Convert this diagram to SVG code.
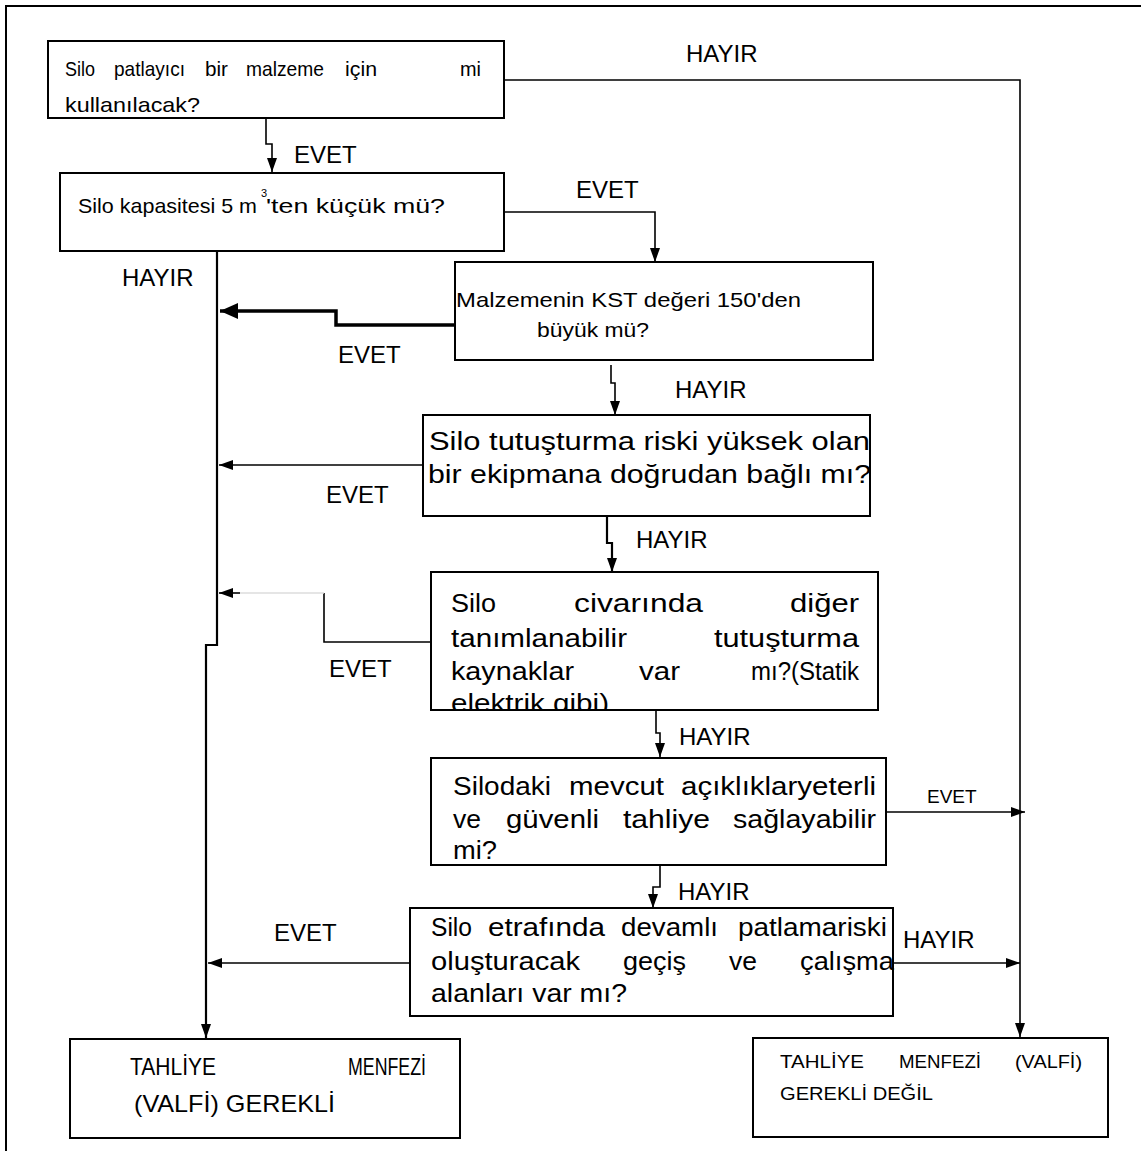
<svg xmlns="http://www.w3.org/2000/svg" width="1141" height="1151" viewBox="0 0 1141 1151">
<defs>
<style>
.box{fill:#fff;stroke:#000;stroke-width:2}
.t{font-family:"Liberation Sans",Arial,sans-serif;fill:#000}
.s21{font-size:21px}
.s25{font-size:25px}
.s24{font-size:24px}
.s18{font-size:18px}
.lab{font-family:"Liberation Sans",Arial,sans-serif;font-size:24px;fill:#000}
.c{fill:none;stroke:#000;stroke-width:1.6}
.cm{fill:none;stroke:#000;stroke-width:2.2}
.ck{fill:none;stroke:#000;stroke-width:3.5}
</style>
<marker id="ah" viewBox="0 0 14 10" markerWidth="14" markerHeight="10" refX="14" refY="5" orient="auto" markerUnits="userSpaceOnUse"><path d="M0,0 L14,5 L0,10 z" fill="#000"/></marker>
<marker id="ahb" viewBox="0 0 18 16" markerWidth="18" markerHeight="16" refX="18" refY="8" orient="auto" markerUnits="userSpaceOnUse"><path d="M0,0 L18,8 L0,16 z" fill="#000"/></marker>
<clipPath id="clip5"><rect x="431" y="572" width="447" height="137"/></clipPath>
</defs>
<rect x="0" y="0" width="1141" height="1151" fill="#fff"/>
<path d="M6,1151 V6 H1141" fill="none" stroke="#000" stroke-width="2"/>

<g id="connectors">
<path class="c" d="M504,80 H1020 V1037" marker-end="url(#ah)"/>
<path class="c" d="M266,118 V144 H272 V172" marker-end="url(#ah)"/>
<path class="c" d="M504,212 H655 V262" marker-end="url(#ah)"/>
<path class="cm" d="M217,251 V645 H206 V1038" marker-end="url(#ah)"/>
<path class="ck" d="M455,325 H336 V311 H220" marker-end="url(#ahb)"/>
<path class="c" d="M611,365 V383 H615 V415" marker-end="url(#ah)"/>
<path class="c" d="M423,465 H219" marker-end="url(#ah)"/>
<path class="cm" d="M607,516 V543 H612 V572" marker-end="url(#ah)"/>
<path class="c" d="M431,642 H324 V593"/>
<path fill="none" stroke="#ddd" stroke-width="1.5" d="M324,593 H240"/>
<path class="c" d="M240,593 H219" marker-end="url(#ah)"/>
<path class="c" d="M656,710 V733 H660 V757" marker-end="url(#ah)"/>
<path class="c" d="M886,812 H1025" marker-end="url(#ah)"/>
<path class="c" d="M660,866 V887 H653 V908" marker-end="url(#ah)"/>
<path class="c" d="M410,963 H208" marker-end="url(#ah)"/>
<path class="c" d="M893,963 H1020" marker-end="url(#ah)"/>
<text class="lab" x="294" y="163">EVET</text>
<text class="lab" x="686" y="62">HAYIR</text>
<text class="lab" x="576" y="198">EVET</text>
<text class="lab" x="122" y="286">HAYIR</text>
<text class="lab" x="338" y="363">EVET</text>
<text class="lab" x="675" y="398">HAYIR</text>
<text class="lab" x="326" y="503">EVET</text>
<text class="lab" x="636" y="548">HAYIR</text>
<text class="lab" x="329" y="677">EVET</text>
<text class="lab" x="679" y="745">HAYIR</text>
<text class="lab" x="927" y="803" style="font-size:19px">EVET</text>
<text class="lab" x="678" y="900">HAYIR</text>
<text class="lab" x="274" y="941">EVET</text>
<text class="lab" x="903" y="948">HAYIR</text>
</g>

<g id="n1">
<rect class="box" x="48" y="41" width="456" height="77"/>
<text class="t s21" y="76"><tspan x="65" textLength="30" lengthAdjust="spacingAndGlyphs">Silo</tspan><tspan x="114" textLength="71" lengthAdjust="spacingAndGlyphs">patlayıcı</tspan><tspan x="205" textLength="23" lengthAdjust="spacingAndGlyphs">bir</tspan><tspan x="246" textLength="78" lengthAdjust="spacingAndGlyphs">malzeme</tspan><tspan x="345" textLength="32" lengthAdjust="spacingAndGlyphs">için</tspan><tspan x="460" textLength="21" lengthAdjust="spacingAndGlyphs">mi</tspan></text>
<text class="t s21" x="65" y="112" textLength="135" lengthAdjust="spacingAndGlyphs">kullanılacak?</text>
</g>

<g id="n2">
<rect class="box" x="60" y="173" width="444" height="78"/>
<text class="t s21" x="78" y="213" textLength="179" lengthAdjust="spacingAndGlyphs">Silo kapasitesi 5 m</text>
<text class="t" x="261" y="197" style="font-size:11px">3</text>
<text class="t s21" x="266" y="213" textLength="179" lengthAdjust="spacingAndGlyphs">'ten küçük mü?</text>
</g>

<g id="n3">
<rect class="box" x="455" y="262" width="418" height="98"/>
<text class="t s21" x="456" y="307" textLength="345" lengthAdjust="spacingAndGlyphs">Malzemenin KST değeri 150'den</text>
<text class="t s21" x="537" y="337" textLength="112" lengthAdjust="spacingAndGlyphs">büyük mü?</text>
</g>

<g id="n4">
<rect class="box" x="423" y="415" width="447" height="101"/>
<text class="t s25" x="429" y="450" textLength="441" lengthAdjust="spacingAndGlyphs">Silo tutuşturma riski yüksek olan</text>
<text class="t s25" x="428" y="483" textLength="443" lengthAdjust="spacingAndGlyphs">bir ekipmana doğrudan bağlı mı?</text>
</g>

<g id="n5">
<rect class="box" x="431" y="572" width="447" height="138"/>
<g clip-path="url(#clip5)">
<text class="t s25" y="612"><tspan x="451" textLength="45" lengthAdjust="spacingAndGlyphs">Silo</tspan><tspan x="574" textLength="129" lengthAdjust="spacingAndGlyphs">civarında</tspan><tspan x="790" textLength="69" lengthAdjust="spacingAndGlyphs">diğer</tspan></text>
<text class="t s25" y="647"><tspan x="451" textLength="176" lengthAdjust="spacingAndGlyphs">tanımlanabilir</tspan><tspan x="714" textLength="145" lengthAdjust="spacingAndGlyphs">tutuşturma</tspan></text>
<text class="t s25" y="680"><tspan x="451" textLength="123" lengthAdjust="spacingAndGlyphs">kaynaklar</tspan><tspan x="639" textLength="41" lengthAdjust="spacingAndGlyphs">var</tspan><tspan x="751" textLength="108" lengthAdjust="spacingAndGlyphs">mı?(Statik</tspan></text>
<text class="t s25" x="451" y="712" textLength="158" lengthAdjust="spacingAndGlyphs">elektrik gibi)</text>
</g>
</g>

<g id="n6">
<rect class="box" x="431" y="758" width="455" height="107"/>
<text class="t s25" y="795"><tspan x="453" textLength="98" lengthAdjust="spacingAndGlyphs">Silodaki</tspan><tspan x="569" textLength="95" lengthAdjust="spacingAndGlyphs">mevcut</tspan><tspan x="681" textLength="195" lengthAdjust="spacingAndGlyphs">açıklıklaryeterli</tspan></text>
<text class="t s25" y="828"><tspan x="453" textLength="28" lengthAdjust="spacingAndGlyphs">ve</tspan><tspan x="506" textLength="93" lengthAdjust="spacingAndGlyphs">güvenli</tspan><tspan x="623" textLength="87" lengthAdjust="spacingAndGlyphs">tahliye</tspan><tspan x="733" textLength="143" lengthAdjust="spacingAndGlyphs">sağlayabilir</tspan></text>
<text class="t s25" x="453" y="859" textLength="44" lengthAdjust="spacingAndGlyphs">mi?</text>
</g>

<g id="n7">
<rect class="box" x="410" y="908" width="483" height="108"/>
<text class="t s25" y="936"><tspan x="431" textLength="41" lengthAdjust="spacingAndGlyphs">Silo</tspan><tspan x="488" textLength="117" lengthAdjust="spacingAndGlyphs">etrafında</tspan><tspan x="621" textLength="97" lengthAdjust="spacingAndGlyphs">devamlı</tspan><tspan x="738" textLength="149" lengthAdjust="spacingAndGlyphs">patlamariski</tspan></text>
<text class="t s25" y="970"><tspan x="431" textLength="149" lengthAdjust="spacingAndGlyphs">oluşturacak</tspan><tspan x="623" textLength="63" lengthAdjust="spacingAndGlyphs">geçiş</tspan><tspan x="729" textLength="28" lengthAdjust="spacingAndGlyphs">ve</tspan><tspan x="800" textLength="94" lengthAdjust="spacingAndGlyphs">çalışma</tspan></text>
<text class="t s25" x="431" y="1002" textLength="196" lengthAdjust="spacingAndGlyphs">alanları var mı?</text>
</g>

<g id="n8">
<rect class="box" x="70" y="1039" width="390" height="99"/>
<text class="t s24" y="1075"><tspan x="130" textLength="86" lengthAdjust="spacingAndGlyphs">TAHLİYE</tspan><tspan x="348" textLength="78" lengthAdjust="spacingAndGlyphs">MENFEZİ</tspan></text>
<text class="t s24" x="134" y="1112" textLength="201" lengthAdjust="spacingAndGlyphs">(VALFİ) GEREKLİ</text>
</g>

<g id="n9">
<rect class="box" x="753" y="1038" width="355" height="99"/>
<text class="t s18" y="1068"><tspan x="780" textLength="84" lengthAdjust="spacingAndGlyphs">TAHLİYE</tspan><tspan x="899" textLength="82" lengthAdjust="spacingAndGlyphs">MENFEZİ</tspan><tspan x="1015" textLength="67" lengthAdjust="spacingAndGlyphs">(VALFİ)</tspan></text>
<text class="t s18" x="780" y="1100" textLength="153" lengthAdjust="spacingAndGlyphs">GEREKLİ DEĞİL</text>
</g>
</svg>
